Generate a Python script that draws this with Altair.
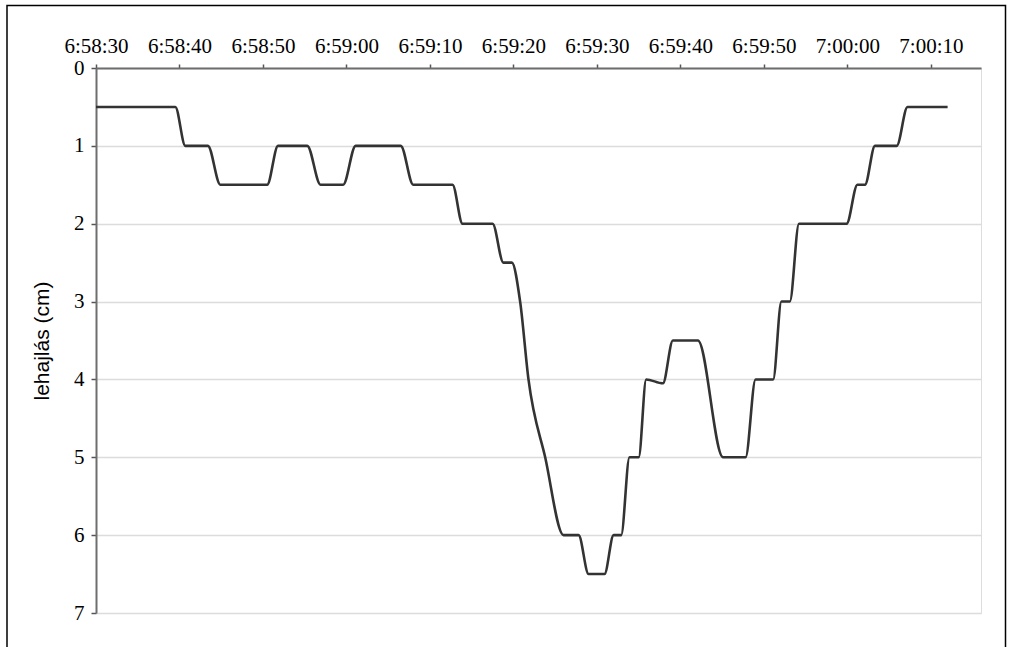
import altair as alt
import pandas as pd

# Deflection record: seconds after 6:58:30 and deflection in cm
START = 6 * 3600 + 58 * 60 + 30
elapsed_s = [0.0, 9.5, 10.7, 13.4, 14.9, 20.5, 21.8, 25.3, 26.9, 29.6, 31.1, 36.5,
             38.0, 42.7, 43.9, 47.5, 48.8, 49.8, 50.8, 51.8, 53.8, 56.0, 57.8, 59.0,
             60.9, 62.0, 62.9, 63.9, 65.0, 65.9, 67.9, 69.1, 72.1, 75.1, 77.8, 79.0,
             81.1, 82.1, 83.1, 84.2, 89.9, 91.2, 92.1, 93.3, 95.9, 97.2, 102.0]
deflection_cm = [0.5, 0.5, 1.0, 1.0, 1.5, 1.5, 1.0, 1.0, 1.5, 1.5, 1.0, 1.0,
                 1.5, 1.5, 2.0, 2.0, 2.5, 2.5, 3.0, 4.0, 5.0, 6.0, 6.0, 6.5,
                 6.5, 6.0, 6.0, 5.0, 5.0, 4.0, 4.05, 3.5, 3.5, 5.0, 5.0, 4.0,
                 4.0, 3.0, 3.0, 2.0, 2.0, 1.5, 1.5, 1.0, 1.0, 0.5, 0.5]
tick_offsets = list(range(0, 101, 10))
y_ticks = [0, 1, 2, 3, 4, 5, 6, 7]

df = pd.DataFrame({"t": [START + s for s in elapsed_s], "d": deflection_cm})

x_axis = alt.Axis(
    orient="top", values=[START + s for s in tick_offsets],
    labelExpr="utcFormat(datum.value * 1000, '%-H:%M:%S')",
    labelOverlap=False, labelFlush=False,
    grid=False, title=None, tickSize=4, labelPadding=8,
    labelFont="Liberation Serif", labelFontSize=21, labelColor="#000",
    domainColor="#6e6e6e", domainWidth=2, tickColor="#555", tickWidth=1.5,
)
y_axis = alt.Axis(
    values=y_ticks, title="lehajlás (cm)", tickSize=5, labelPadding=7,
    labelFont="Liberation Serif", labelFontSize=21, labelColor="#000",
    titleFont="Liberation Sans", titleFontSize=21, titleFontWeight="normal",
    titleColor="#000", titlePadding=21,
    grid=True, gridColor="#dcdcdc", gridWidth=1.5,
    domainColor="#6e6e6e", domainWidth=2, tickColor="#555", tickWidth=1.5,
)

line = alt.Chart(df).mark_line(
    color="#333333", strokeWidth=2.6, interpolate="monotone"
).encode(
    x=alt.X("t:Q", scale=alt.Scale(domain=[START, START + 106], nice=False), axis=x_axis),
    y=alt.Y("d:Q", scale=alt.Scale(domain=[0, 7], reverse=True, nice=False), axis=y_axis),
)

# outer frame around the figure
frame = alt.Chart(alt.Data(values=[{}])).mark_rect(
    fill=None, stroke="#000", strokeWidth=1.5, clip=False
).encode(
    x=alt.value(-89), x2=alt.value(909.5), y=alt.value(-62.5), y2=alt.value(620)
)

chart = alt.layer(line, frame).properties(
    width=885, height=545,
    autosize=alt.AutoSizeParams(type="none"),
    padding={"left": 96, "top": 68, "right": 30, "bottom": 34},
).configure_view(stroke=None).configure(background="white")

chart.save("out.html", embed_options={"renderer": "svg", "actions": False})
